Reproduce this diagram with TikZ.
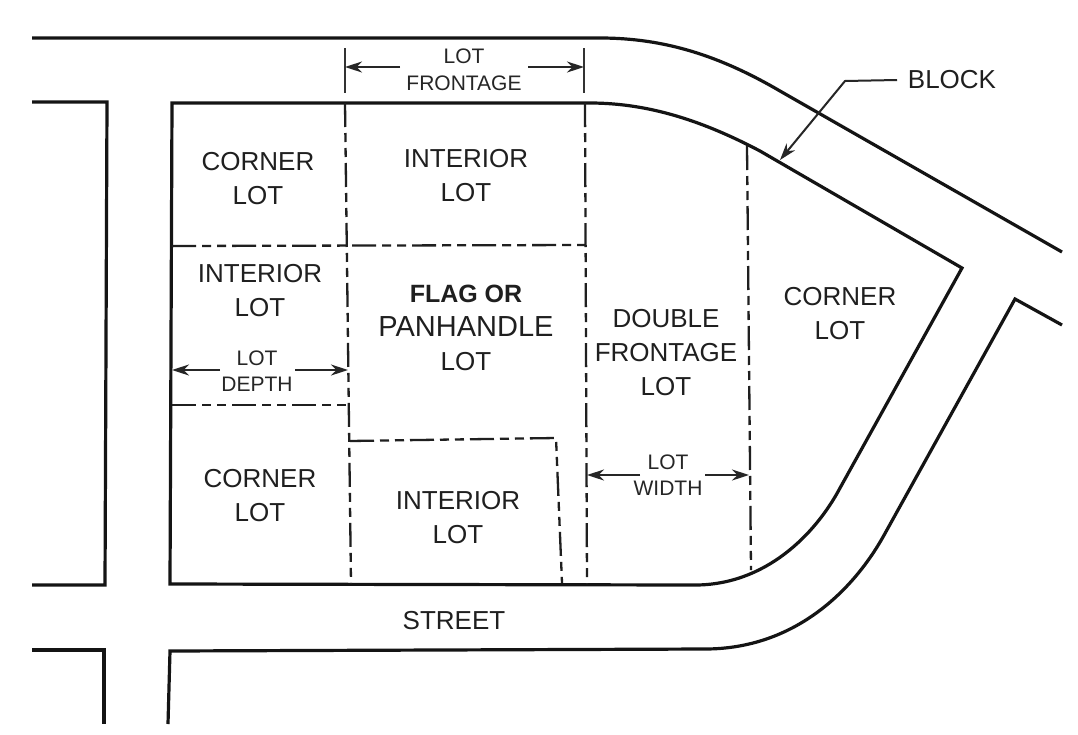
\documentclass[tikz,border=0pt]{standalone}
\usepackage{fontspec}
\setmainfont{Liberation Sans}
\usetikzlibrary{arrows.meta}
\begin{document}
\begin{tikzpicture}[x=1pt,y=-1pt,
  road/.style={line width=3.2pt,line join=miter,color=black!92},
  lotline/.style={line width=2.3pt,color=black!88,dash pattern=on 24pt off 6pt on 9pt off 6pt on 9pt off 6pt},
  dimtick/.style={line width=2pt,color=black!80},
  dimarrow/.style={line width=2pt,color=black!85,-{Stealth[length=17pt,width=11pt]}},
  lbl/.style={align=center,inner sep=0pt,text=black!88,font=\fontsize{26}{34}\selectfont},
  smalllbl/.style={align=center,inner sep=0pt,text=black!85,font=\fontsize{21}{26.5}\selectfont}]
\useasboundingbox (0,0) rectangle (1078,734);
\fill[white] (0,0) rectangle (1078,734);
% roads
\draw[road] (32,38) -- (600,38) .. controls (665,38) and (720,56) .. (780,91) -- (1062,252);
\draw[road] (172,103) -- (590,103) .. controls (650,103) and (705,122) .. (760,151) -- (962,268) -- (840,488) .. controls (815,535) and (765,585) .. (695,585) -- (170,584) -- cycle;
\draw[road] (1062,325) -- (1015,299) -- (883,537) .. controls (853,590) and (795,649) .. (705,649) -- (170,651) -- (168,724);
\draw[road] (32,102) -- (107,102) -- (105,585) -- (32,585);
\draw[road] (32,650) -- (104,650) -- (104,724);
% named points
\coordinate (v1t) at (345,103); \coordinate (v1b) at (351,584);
\coordinate (v2t) at (585,103); \coordinate (v2b) at (587,584);
\coordinate (v3t) at (747,146); \coordinate (v3b) at (751,570);
\coordinate (h1l) at (172,246); \coordinate (h1r) at (585,245);
\coordinate (h2l) at (172,405); \coordinate (h2r) at (348,405);
\coordinate (p1) at (350,441); \coordinate (p2) at (556,438); \coordinate (p3) at (562,583);
\coordinate (t1a) at (345,48); \coordinate (t1b) at (345,93);
\coordinate (t2a) at (584,48); \coordinate (t2b) at (584,93);
\coordinate (bk1) at (845,81); \coordinate (bk2) at (780,160);
% lot lines
\draw[lotline] (v1t) -- (v1b);
\draw[lotline] (v2t) -- (v2b);
\draw[lotline] (v3t) -- (v3b);
\draw[lotline] (h1l) -- (h1r);
\draw[lotline] (h2l) -- (h2r);
\draw[lotline] (p1) -- (p2) -- (p3);
% labels
\node[smalllbl] (front) at (464,70) {LOT\\FRONTAGE};
\node[lbl] (block) at (952,80) {BLOCK};
\node[lbl] (c1) at (258,179) {CORNER\\LOT};
\node[lbl] (i1) at (466,176) {INTERIOR\\LOT};
\node[lbl] (i2) at (260,291) {INTERIOR\\LOT};
\node[smalllbl] (depth) at (257,371) {LOT\\DEPTH};
\node[lbl] (flag) at (466,328) {\fontsize{25}{34}\selectfont\bfseries FLAG OR\\\fontsize{29}{36}\selectfont PANHANDLE\\\fontsize{26}{31}\selectfont LOT};
\node[lbl] (dbl) at (666,353) {DOUBLE\\FRONTAGE\\LOT};
\node[lbl] (c2) at (840,314) {CORNER\\LOT};
\node[lbl] (c3) at (260,496) {CORNER\\LOT};
\node[lbl] (i3) at (458,518) {INTERIOR\\LOT};
\node[smalllbl] (width) at (668,475) {LOT\\WIDTH};
\node[lbl] (street) at (454,621) {STREET};
% dimensions
\draw[dimtick] (t1a) -- (t1b);
\draw[dimtick] (t2a) -- (t2b);
\draw[dimarrow] (400,67) -- (345,67);
\draw[dimarrow] (528,67) -- (584,67);
\draw[dimarrow] (220,370) -- (172,370);
\draw[dimarrow] (295,370) -- (348,370);
\draw[dimarrow] (640,475) -- (587,475);
\draw[dimarrow] (705,475) -- (749,475);
\draw[dimarrow] (897,80) -- (bk1) -- (bk2);
\end{tikzpicture}
\end{document}
